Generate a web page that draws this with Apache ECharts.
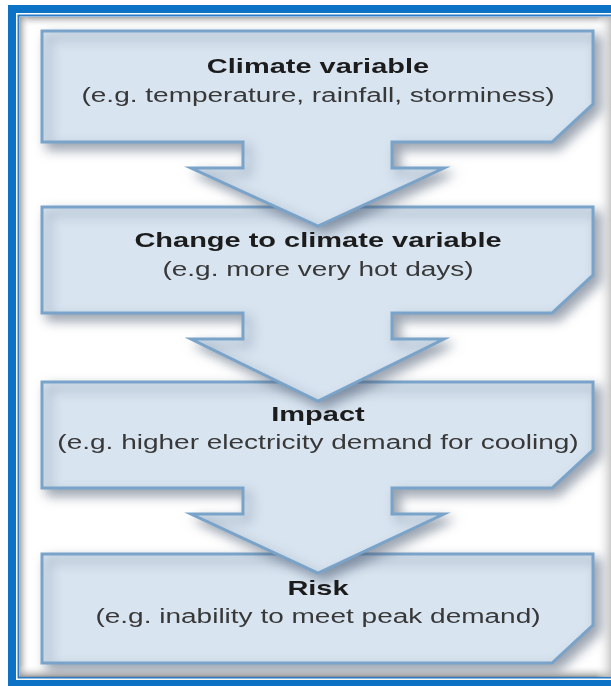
<!DOCTYPE html>
<html lang="en">
<head>
    <meta charset="UTF-8">
    <title>Climate risk chain</title>
    <script src="https://cdn.jsdelivr.net/npm/echarts@6/dist/echarts.min.js"></script>
    <style>
        html, body { margin: 0; padding: 0; background: #ffffff; }
        #main { width: 611px; height: 686px; }
    </style>
</head>
<body>
<div id="main"></div>
<script>
    // step texts, top to bottom
    var titles = ['Climate variable', 'Change to climate variable', 'Impact', 'Risk'];
    var subtitles = [
        '(e.g. temperature, rainfall, storminess)',
        '(e.g. more very hot days)',
        '(e.g. higher electricity demand for cooling)',
        '(e.g. inability to meet peak demand)'
    ];

    // layout (pixels)
    var boxTop = [31, 207, 382, 554];
    var boxBottom = [142, 313, 488, 663];
    var titleY = [67, 241, 415, 589];
    var subY = [96, 270, 443, 617];
    var L = 42, R = 593, CX = 318;
    var cut = 38;
    var stemL = 243, stemR = 392, headL = 191, headR = 444;

    function shape(i) {
        var t = boxTop[i], b = boxBottom[i];
        var pts = [[L, t], [R, t], [R, b - cut], [R - cut - 3, b]];
        if (i < titles.length - 1) {
            var sh = b + 26, tip = boxTop[i + 1] + 19;
            pts.push([stemR, b], [stemR, sh], [headR, sh], [CX, tip],
                [headL, sh], [stemL, sh], [stemL, b]);
        }
        pts.push([L, b]);
        return pts;
    }

    var g = [];
    // frame
    g.push({type: 'rect', shape: {x: 8, y: 5, width: 603, height: 681}, style: {fill: '#0b72c6'}});
    g.push({type: 'rect', shape: {x: 16, y: 13, width: 600, height: 667}, style: {fill: '#ffffff'}});
    g.push({type: 'rect', shape: {x: 18.5, y: 15.5, width: 600, height: 662}, style: {fill: '#ffffff', stroke: '#2a7cc8', lineWidth: 2}});
    // inner panel shading
    function grad(x, y, x2, y2, c1, c2) {
        return new echarts.graphic.LinearGradient(x, y, x2, y2, [
            {offset: 0, color: c1}, {offset: 1, color: c2}
        ]);
    }
    g.push({type: 'rect', shape: {x: 20, y: 17, width: 591, height: 10}, style: {fill: grad(0, 0, 0, 1, 'rgba(150,150,150,0.8)', 'rgba(255,255,255,0)')}});
    g.push({type: 'rect', shape: {x: 20, y: 17, width: 10, height: 660}, style: {fill: grad(0, 0, 1, 0, 'rgba(150,150,150,0.8)', 'rgba(255,255,255,0)')}});
    g.push({type: 'rect', shape: {x: 20, y: 665, width: 591, height: 12}, style: {fill: grad(0, 0, 0, 1, 'rgba(255,255,255,0)', 'rgba(140,140,140,0.85)')}});
    g.push({type: 'rect', shape: {x: 596, y: 17, width: 15, height: 660}, style: {fill: grad(0, 0, 1, 0, 'rgba(255,255,255,0)', 'rgba(190,190,190,0.8)')}});

    // boxes, bottom first so each arrow sits over the next box
    for (var i = titles.length - 1; i >= 0; i--) {
        g.push({
            type: 'polygon',
            shape: {points: shape(i)},
            style: {
                fill: '#d8e4f0', stroke: '#7aa3c9', lineWidth: 3, lineJoin: 'miter',
                shadowBlur: 12, shadowOffsetX: 6, shadowOffsetY: 6,
                shadowColor: 'rgba(70,85,110,0.55)'
            }
        });
    }
    for (var j = 0; j < titles.length; j++) {
        g.push({
            type: 'text', x: CX, y: titleY[j], scaleX: 1.38,
            style: {
                text: titles[j], fill: '#1c1c1c', align: 'center', verticalAlign: 'middle',
                font: 'bold 21px "Liberation Sans", Arial, sans-serif'
            }
        });
        g.push({
            type: 'text', x: CX, y: subY[j], scaleX: 1.4,
            style: {
                text: subtitles[j], fill: '#383838', align: 'center', verticalAlign: 'middle',
                font: '20px "Liberation Sans", Arial, sans-serif'
            }
        });
    }

    var myChart = echarts.init(document.getElementById('main'));
    myChart.setOption({
        backgroundColor: '#ffffff',
        animation: false,
        graphic: {elements: g}
    });
</script>
</body>
</html>
